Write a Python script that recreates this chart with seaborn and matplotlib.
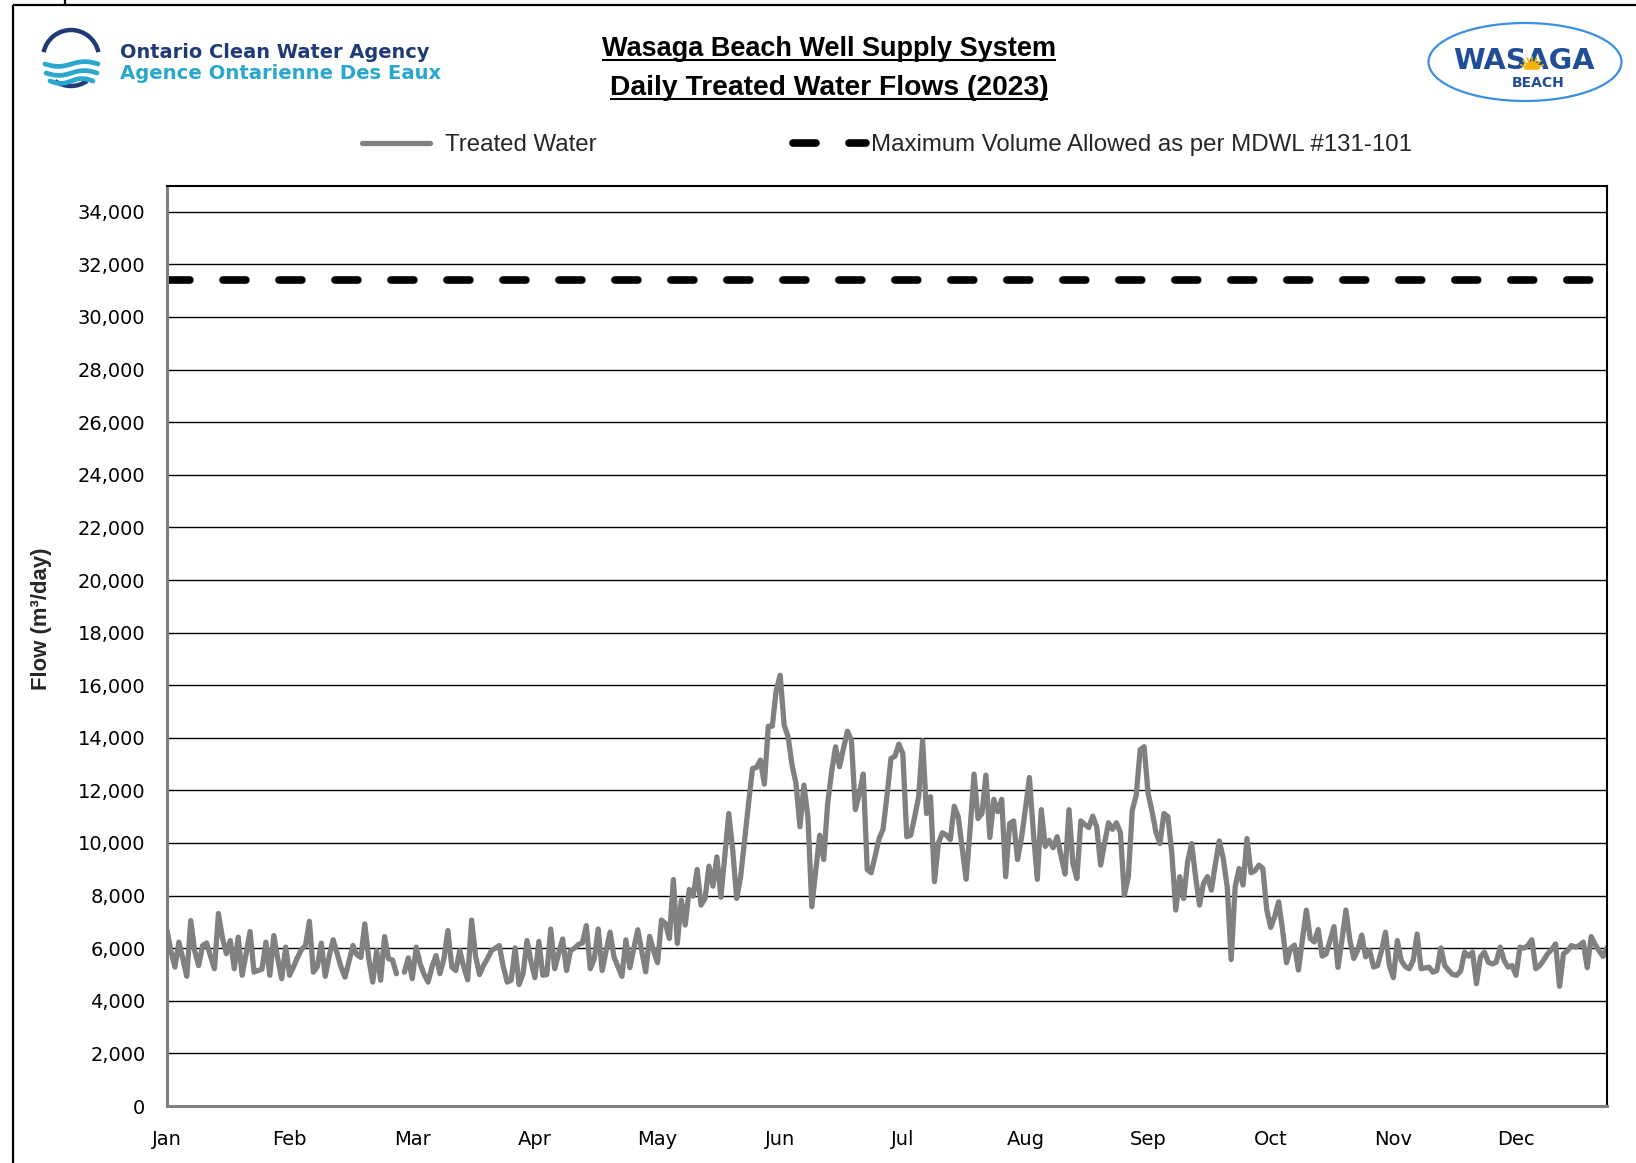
import numpy as np
import pandas as pd
import matplotlib
matplotlib.use("Agg")
import matplotlib.pyplot as plt
import seaborn as sns
from matplotlib import font_manager
from matplotlib.patches import Ellipse, Arc, Wedge

# ---------------- data ----------------
month_labels = ["Jan", "Feb", "Mar", "Apr", "May", "Jun",
                "Jul", "Aug", "Sep", "Oct", "Nov", "Dec"]
month_label_days = [0, 31, 62, 93, 124, 155, 186, 217, 248, 279, 310, 341]

jan = [6670, 5900, 5280, 6230, 5600, 4930, 7050, 5900, 5340, 6100, 6200, 5700, 5220, 7320, 6400, 5790,
       6290, 5220, 6420, 4970, 5800, 6630, 5090, 5150, 5200, 6230, 4970, 6480, 5600, 4840, 6040]
feb = [4970, 5300, 5650, 5950, 6100, 7020, 5090, 5300, 6190, 4930, 5700, 6320, 5800, 5280, 4900, 5500,
       6100, 5750, 5650, 6920, 5600, 4710, 5910, 4780, 6440, 5600, 5550, 5030]
mar = [np.nan, 5090, 5630, 4840, 6040, 5400, 5000, 4710, 5300, 5720, 5030, 5600, 6670, 5280, 5150, 5910,
       5300, 4800, 7070, 5700, 5000, 5340, 5600, 5910, 6000, 6100, 5300, 4710, 4780, 6010, 4620]
apr = [5030, 6290, 5500, 4880, 6260, 4970, 5000, 6730, 5220, 5800, 6350, 5150, 5910, 6000, 6140, 6200,
       6860, 5220, 5600, 6730, 5150, 5900, 6610, 5660, 5300, 4930, 6320, 5260, 6000, 6700]
may = [5900, 5100, 6450, 5900, 5450, 7070, 6940, 6370, 8610, 6180, 7830, 6880, 8230, 7980, 8990, 7640,
       7890, 9120, 8360, 9470, 7940, 9500, 11120, 9730, 7890, 8710, 10110, 11500, 12830, 12870, 13150]
jun = [12240, 14440, 14440, 15810, 16380, 14480, 14040, 12960, 12260, 10620, 12200, 11000, 7580, 8970,
       10300, 9370, 11500, 12710, 13660, 12900, 13600, 14250, 13910, 11270, 11880, 12620, 8990, 8870,
       9500, 10170]
jul = [10520, 11800, 13210, 13300, 13760, 13400, 10240, 10300, 11000, 11760, 13890, 11120, 11760, 8530,
       10000, 10390, 10300, 10130, 11400, 11000, 9800, 8620, 10500, 12620, 10930, 11120, 12580, 10210,
       11660, 11190, 11660]
aug = [8720, 10740, 10840, 9370, 10200, 11300, 12490, 10400, 8620, 11270, 9870, 10100, 9820, 10240,
       9500, 8820, 11270, 9220, 8650, 10840, 10700, 10590, 11020, 10620, 9160, 10000, 10770, 10520,
       10770, 10390, 8020]
sep = [8720, 11250, 11820, 13550, 13660, 11880, 11200, 10400, 9980, 11120, 11000, 9600, 7450, 8720,
       7890, 9300, 9980, 8720, 7640, 8460, 8720, 8210, 9200, 10080, 9410, 8330, 5570, 8330, 9030, 8400]
oct_ = [10170, 8870, 8940, 9160, 9030, 7450, 6790, 7200, 7760, 6680, 5450, 5990, 6120, 5170, 6300, 7450,
        6370, 6240, 6710, 5700, 5780, 6300, 6820, 5270, 6300, 7450, 6310, 5610, 5930, 6500, 5670]
nov = [5910, 5280, 5340, 5900, 6610, 5340, 4880, 6290, 5530, 5300, 5220, 5530, 6540, 5220, 5250, 5280,
       5090, 5150, 6010, 5340, 5150, 5000, 4970, 5130, 5850, 5700, 5850, 4650, 5660, 5850]
dec = [5470, 5400, 5470, 6040, 5530, 5280, 5340, 4970, 6040, 6000, 6100, 6320, 5220, 5340, 5550, 5790,
       5950, 6160, 4550, 5790, 5900, 6100, 6040, 6100, 6230, 5260, 6440, 6140, 5900, 5690, 6010]

max_allowed = 31420
y_ticks = list(range(0, 34001, 2000))
series_labels = ["Treated Water", "Maximum Volume Allowed as per MDWL #131-101"]
title_lines = ["Wasaga Beach Well Supply System", "Daily Treated Water Flows (2023)"]
y_label = "Flow (m³/day)"

flow = np.array(jan + feb + mar + apr + may + jun + jul + aug + sep + oct_ + nov + dec, dtype=float)
days = np.arange(len(flow))
df = pd.DataFrame({"day": days, "flow": flow, "segment": np.cumsum(np.isnan(flow))})
df_max = pd.DataFrame({"day": [days[0], days[-1]], "flow": [max_allowed, max_allowed]})

# ---------------- figure ----------------
W, H = 1636, 1163
sns.set_theme(style="white")
plt.rcParams["font.family"] = ["DejaVu Sans"]
names = {f.name for f in font_manager.fontManager.ttflist}


def pick(*cands):
    for n in cands:
        if n in names:
            return n
    return "DejaVu Sans"


NARROW = pick("Liberation Sans Narrow", "Liberation Sans")
ARIAL = pick("Liberation Sans", "DejaVu Sans")

fig = plt.figure(figsize=(W / 100, H / 100), dpi=100)
fig.patch.set_facecolor("white")

# overlay in pixel coordinates for page decoration / logos
ov = fig.add_axes([0, 0, 1, 1])
ov.set_xlim(0, W)
ov.set_ylim(H, 0)
ov.axis("off")

renderer = fig.canvas.get_renderer()


def fit_width(t, target, use_height=False):
    fs = t.get_fontsize()
    bb = t.get_window_extent(renderer)
    w = bb.height if use_height else bb.width
    t.set_fontsize(fs * target / w)


# page border
ov.plot([12.5, W], [5, 5], color="black", lw=1.6, solid_capstyle="butt")
ov.plot([12.5, 12.5], [5, H], color="black", lw=1.6, solid_capstyle="butt")
ov.plot([64.7, 64.7], [0, 5], color="black", lw=1.6)

# OCWA emblem
navy = "#1f3b75"
teal = "#2aa7cc"
ov.add_patch(Arc((71, 58), 56, 56, theta1=192, theta2=348, color=navy, lw=3.2))
ov.add_patch(Arc((71, 58), 56, 56, theta1=55, theta2=125, color=navy, lw=3.2))
for y0, x0, x1 in [(64, 45, 98), (73, 46, 97), (81, 50, 93)]:
    xs = np.linspace(x0, x1, 60)
    ys = y0 + 2.4 * np.sin((xs - x0) / (x1 - x0) * 2 * np.pi)
    ov.plot(xs, ys, color=teal, lw=3.4, solid_capstyle="round")

t1 = ov.text(120, 53, "Ontario Clean Water Agency", color=navy,
             fontsize=12, fontweight="heavy", family="DejaVu Sans", ha="left", va="center")
fit_width(t1, 308)
t2 = ov.text(120, 73.5, "Agence Ontarienne Des Eaux", color=teal,
             fontsize=12, fontweight="heavy", family="DejaVu Sans", ha="left", va="center")
fit_width(t2, 320)

# Wasaga Beach logo
ov.add_patch(Ellipse((1525, 62), 193, 78, fill=False, ec="#3a8fe3", lw=1.6))
tw = ov.text(1524, 61, "WASAGA", color="#1f4e96", fontsize=18,
             fontweight="heavy", family="DejaVu Sans", ha="center", va="center", zorder=3)
fit_width(tw, 142)
ov.add_patch(Wedge((1532, 69), 7, 180, 360, color="#f4b400", zorder=4))
for ang in np.linspace(200, 340, 7):
    a = np.deg2rad(ang)
    ov.plot([1532 + 7 * np.cos(a), 1532 + 12 * np.cos(a)],
            [69 + 7 * np.sin(a), 69 + 12 * np.sin(a)], color="#f4b400", lw=1.2, zorder=4)
tb = ov.text(1538, 83, "BEACH", color="#1f4e96", fontsize=10,
             fontweight="bold", family="DejaVu Sans", ha="center", va="center")

# titles (bold, underlined)
title_y = [49.5, 88]
underline_y = [60, 99]
targets = [454, 438]
for txt, yy, uy, tgt in zip(title_lines, title_y, underline_y, targets):
    tt = ov.text(829, yy, txt, fontsize=20, fontweight="bold",
                 family=NARROW, ha="center", va="center", color="black")
    fit_width(tt, tgt)
    bb = tt.get_window_extent(renderer)
    ov.plot([bb.x0, bb.x1], [uy, uy], color="black", lw=1.5, solid_capstyle="butt")

# ---------------- main chart ----------------
ax_top = 185.5
ax = fig.add_axes([167 / W, 1 - 1106 / H, (1607 - 167) / W, (1106 - ax_top) / H])

n0 = len(ax.lines)
sns.lineplot(data=df, x="day", y="flow", units="segment", estimator=None,
             color="#808080", linewidth=3.8, legend=False, ax=ax, sort=True)
treated_lines = ax.lines[n0:]
for ln in treated_lines:
    ln.set_solid_joinstyle("round")
    ln.set_solid_capstyle("round")
n1 = len(ax.lines)
sns.lineplot(data=df_max, x="day", y="flow", color="black", linewidth=5.5,
             legend=False, ax=ax)
max_line = ax.lines[n1]
max_line.set_linestyle((0, (3.0, 4.33)))
max_line.set_dash_capstyle("round")

ax.set_xlim(days[0], days[-1])
ax.set_ylim(0, 35000)
ax.set_yticks(y_ticks)
ax.set_yticklabels([f"{v:,}" for v in y_ticks])
ax.set_xticks(month_label_days)
ax.set_xticklabels(month_labels)
ax.tick_params(axis="y", length=0, pad=15.5, labelsize=14, labelcolor="black")
ax.tick_params(axis="x", length=0, pad=17.5, labelsize=14, labelcolor="black")
ax.set_xlabel("")
ax.set_ylabel("")
ax.yaxis.grid(True, color="black", lw=1.0)
ax.xaxis.grid(False)
ax.set_axisbelow(True)
for side in ["top", "right"]:
    ax.spines[side].set_color("black")
    ax.spines[side].set_linewidth(1.5)
for side in ["left", "bottom"]:
    ax.spines[side].set_color("#7f7f7f")
    ax.spines[side].set_linewidth(2.2)
ax.set_facecolor("white")

yl = fig.text(41.7 / W, 1 - 619 / H, y_label, rotation=90, fontsize=14, fontweight="bold",
              family=NARROW, ha="center", va="center")
fit_width(yl, 143, use_height=True)

# legends
leg_fs = 17.3
fig.legend(handles=[treated_lines[0]], labels=[series_labels[0]], loc="center left",
           bbox_to_anchor=(362 / W, 1 - 145 / H), frameon=False, borderpad=0,
           borderaxespad=0, handlelength=2.85, handletextpad=0.6,
           prop={"family": ARIAL, "size": leg_fs})
fig.legend(handles=[max_line], labels=[series_labels[1]], loc="center left",
           bbox_to_anchor=(793 / W, 1 - 145 / H), frameon=False, borderpad=0,
           borderaxespad=0, handlelength=3.05, handletextpad=0.2,
           prop={"family": ARIAL, "size": leg_fs})

fig.savefig("out.png", dpi=100, facecolor="white")
